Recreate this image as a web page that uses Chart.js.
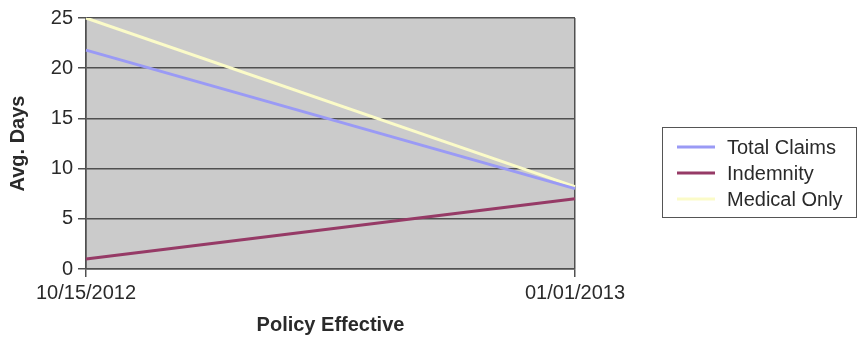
<!DOCTYPE html>
<html>
<head>
<meta charset="utf-8">
<script src="https://cdn.jsdelivr.net/npm/chart.js@4/dist/chart.umd.min.js"></script>
<style>
html,body{margin:0;padding:0;background:#fff;}
#wrap{position:relative;width:862px;height:337px;}
</style>
</head>
<body>
<div id="wrap"><canvas id="c" width="862" height="337"></canvas></div>
<script>
const categories = ['10/15/2012', '01/01/2013'];
const totalClaims = [21.8, 8.0];
const indemnity = [1.0, 7.0];
const medicalOnly = [25.0, 8.2];
const yTicks = [0, 5, 10, 15, 20, 25];

const FONT = 'Liberation Sans, Arial, sans-serif';
const TXT = '#2a2a2a';
const GRID = '#505050';

const bgPlugin = {
  id: 'bg',
  beforeDraw(chart) {
    const a = chart.chartArea, ctx = chart.ctx;
    ctx.save();
    ctx.fillStyle = '#cbcbcb';
    ctx.fillRect(a.left, a.top, a.right - a.left, a.bottom - a.top);
    ctx.restore();
  }
};

const legendPlugin = {
  id: 'boxLegend',
  afterDraw(chart) {
    const ctx = chart.ctx;
    const x = 662.5, y = 127.5, w = 194, h = 90;
    ctx.save();
    ctx.fillStyle = '#ffffff';
    ctx.fillRect(x, y, w, h);
    ctx.strokeStyle = '#555';
    ctx.lineWidth = 1;
    ctx.strokeRect(x, y, w, h);
    ctx.font = '20px ' + FONT;
    ctx.textBaseline = 'middle';
    chart.data.datasets.forEach((ds, i) => {
      const cy = 147 + i * 26;
      ctx.strokeStyle = ds.borderColor;
      ctx.lineWidth = 3;
      ctx.beginPath();
      ctx.moveTo(677, cy);
      ctx.lineTo(715, cy);
      ctx.stroke();
      ctx.fillStyle = TXT;
      ctx.fillText(ds.label, 727, cy + 1);
    });
    ctx.restore();
  }
};

new Chart(document.getElementById('c'), {
  type: 'line',
  data: {
    labels: categories,
    datasets: [
      { label: 'Total Claims', data: totalClaims, borderColor: '#9a9af5', borderWidth: 3, pointRadius: 0, tension: 0 },
      { label: 'Indemnity', data: indemnity, borderColor: '#963a66', borderWidth: 3, pointRadius: 0, tension: 0 },
      { label: 'Medical Only', data: medicalOnly, borderColor: '#fbfbc8', borderWidth: 3, pointRadius: 0, tension: 0 }
    ]
  },
  options: {
    responsive: false,
    animation: false,
    layout: { padding: { top: 18, right: 287, left: 0, bottom: 0 } },
    plugins: { legend: { display: false }, tooltip: { enabled: false } },
    scales: {
      x: {
        type: 'category',
        offset: false,
        afterFit(s) { s.height = 68; },
        grid: { color: GRID, lineWidth: 1.5, tickLength: 8, drawTicks: true },
        border: { color: GRID, width: 1.5 },
        ticks: { color: TXT, font: { family: FONT, size: 20 }, padding: 4, maxRotation: 0, autoSkip: false },
        title: { display: true, text: 'Policy Effective', color: TXT, font: { family: FONT, size: 20, weight: 'bold' }, padding: { top: 0, bottom: 0 } }
      },
      y: {
        min: 0, max: 25,
        afterFit(s) { s.width = 86; },
        afterBuildTicks(s) { s.ticks = yTicks.map(v => ({ value: v })); },
        grid: { color: GRID, lineWidth: 1.5, tickLength: 8 },
        border: { color: GRID, width: 1.5 },
        ticks: { color: TXT, font: { family: FONT, size: 20 }, padding: 5 },
        title: { display: true, text: 'Avg. Days', color: TXT, font: { family: FONT, size: 20, weight: 'bold' }, padding: { top: 6, bottom: 0 } }
      }
    }
  },
  plugins: [bgPlugin, legendPlugin]
});
</script>
</body>
</html>
